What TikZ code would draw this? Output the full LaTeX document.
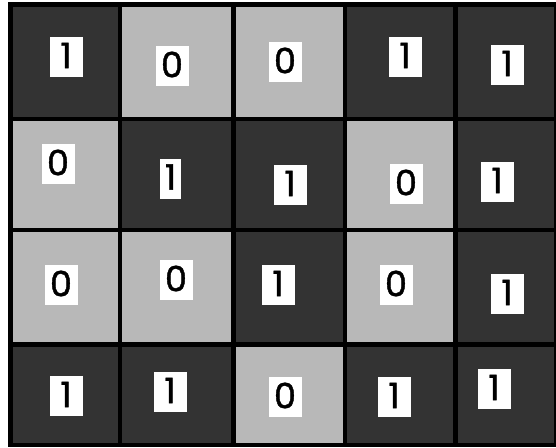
\documentclass[tikz,border=0pt]{standalone}
\usepackage{fontspec}
\setmainfont{Poppins}
\newfontfamily\digfont{Poppins}[FakeBold=1.2]
\definecolor{darkcell}{gray}{0.2}
\definecolor{lightcell}{gray}{0.72}
\tikzset{
  darkbox/.style={fill=darkcell, inner sep=0pt},
  lightbox/.style={fill=lightcell, inner sep=0pt},
  lab/.style={fill=white, inner sep=0pt, minimum width=33pt, minimum height=40pt,
    font=\digfont\fontsize{35}{35}\selectfont, text=black},
  narrow/.style={minimum width=21pt}
}
\begin{document}
\begin{tikzpicture}[x=1pt,y=-1pt]
\useasboundingbox (0,0) rectangle (556,447);
\fill[white] (0,0) rectangle (556,447);
\fill[black] (8,2) rectangle (556,447);
% row 0
\node[darkbox, minimum width=105pt, minimum height=110pt] (c00) at (65.5,62) {};
\node[lightbox, minimum width=109pt, minimum height=110pt] (c01) at (176.5,62) {};
\node[lightbox, minimum width=107pt, minimum height=110pt] (c02) at (289.5,62) {};
\node[darkbox, minimum width=106pt, minimum height=110pt] (c03) at (400,62) {};
\node[darkbox, minimum width=96pt, minimum height=110pt] (c04) at (506,62) {};
% row 1
\node[lightbox, minimum width=105pt, minimum height=107pt] (c10) at (65.5,174.5) {};
\node[darkbox, minimum width=109pt, minimum height=107pt] (c11) at (176.5,174.5) {};
\node[darkbox, minimum width=107pt, minimum height=107pt] (c12) at (289.5,174.5) {};
\node[lightbox, minimum width=106pt, minimum height=107pt] (c13) at (400,174.5) {};
\node[darkbox, minimum width=96pt, minimum height=107pt] (c14) at (506,174.5) {};
% row 2
\node[lightbox, minimum width=105pt, minimum height=110pt] (c20) at (65.5,287) {};
\node[lightbox, minimum width=109pt, minimum height=110pt] (c21) at (176.5,287) {};
\node[darkbox, minimum width=107pt, minimum height=110pt] (c22) at (289.5,287) {};
\node[lightbox, minimum width=106pt, minimum height=110pt] (c23) at (400,287) {};
\node[darkbox, minimum width=96pt, minimum height=110pt] (c24) at (506,287) {};
% row 3
\node[darkbox, minimum width=105pt, minimum height=96pt] (c30) at (65.5,395) {};
\node[darkbox, minimum width=109pt, minimum height=96pt] (c31) at (176.5,395) {};
\node[lightbox, minimum width=107pt, minimum height=96pt] (c32) at (289.5,395) {};
\node[darkbox, minimum width=106pt, minimum height=96pt] (c33) at (400,395) {};
\node[darkbox, minimum width=96pt, minimum height=96pt] (c34) at (506,395) {};
% labels
\node[lab] (l00) at (66,57) {\raisebox{3pt}{1}};
\node[lab] (l01) at (172,66) {\raisebox{3pt}{0}};
\node[lab] (l02) at (285,62) {\raisebox{3pt}{0}};
\node[lab] (l03) at (405,57) {\raisebox{3pt}{1}};
\node[lab] (l04) at (507,65) {\raisebox{3pt}{1}};
\node[lab] (l10) at (58,164) {\raisebox{3pt}{0}};
\node[lab,narrow] (l11) at (170.5,178.5) {\raisebox{3pt}{1}};
\node[lab] (l12) at (290,185) {\raisebox{3pt}{1}};
\node[lab] (l13) at (406,184) {\raisebox{3pt}{0}};
\node[lab] (l14) at (497,182) {\raisebox{3pt}{1}};
\node[lab] (l20) at (61,285) {\raisebox{3pt}{0}};
\node[lab] (l21) at (176,280) {\raisebox{3pt}{0}};
\node[lab] (l22) at (278,285) {\raisebox{3pt}{1}};
\node[lab] (l23) at (396,285) {\raisebox{3pt}{0}};
\node[lab] (l24) at (507,294) {\raisebox{3pt}{1}};
\node[lab] (l30) at (66,396) {\raisebox{3pt}{1}};
\node[lab] (l31) at (170,392) {\raisebox{3pt}{1}};
\node[lab] (l32) at (285,397) {\raisebox{3pt}{0}};
\node[lab] (l33) at (394,397) {\raisebox{3pt}{1}};
\node[lab] (l34) at (494,389) {\raisebox{3pt}{1}};
\end{tikzpicture}
\end{document}
